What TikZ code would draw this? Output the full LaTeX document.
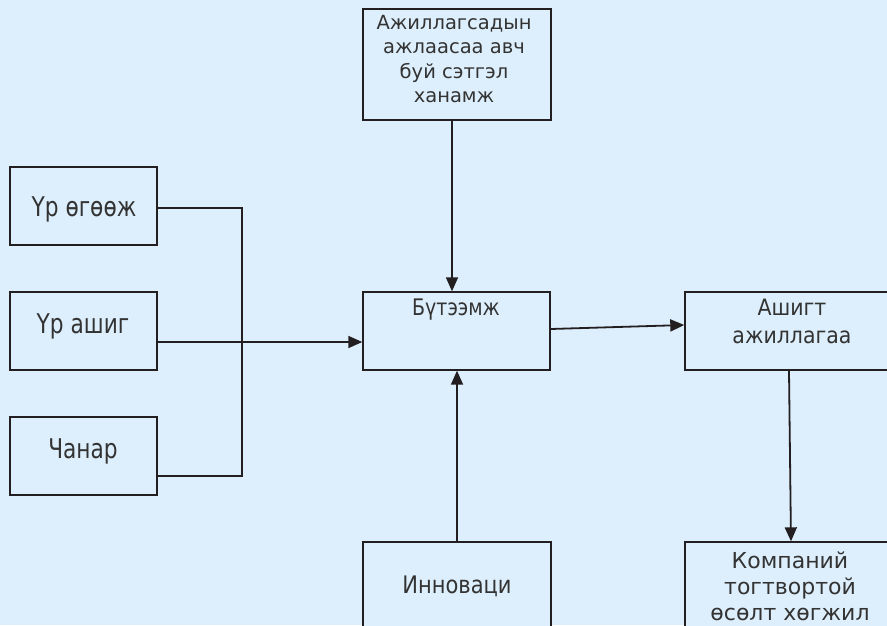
\documentclass[tikz,border=0pt]{standalone}
\usepackage{fontspec}
\setmainfont{DejaVu Sans}
\usetikzlibrary{arrows.meta,calc}
\definecolor{bg}{HTML}{DDEFFC}
\definecolor{ink}{HTML}{231F20}
\definecolor{txt}{HTML}{333333}
\newcommand\mystk[2]{\scalebox{1}[#1]{\begin{tabular}[t]{@{}c@{}}#2\end{tabular}}}
\begin{document}
\begin{tikzpicture}[x=1pt,y=-1pt,
  box/.style={draw=ink,line width=1.4pt,fill=bg,inner sep=0pt},
  lbl/.style={text=txt,inner sep=0pt,anchor=base},
  arr/.style={draw=ink,line width=1.8pt,-{Triangle[length=14pt,width=12pt]}},
  ln/.style={draw=ink,line width=1.6pt}]
\useasboundingbox (0,0) rectangle (887,625);
\fill[bg] (0,0) rectangle (887,625);
\clip (0,0) rectangle (887,625);
% boxes
\node[box,minimum width=188pt,minimum height=111pt] (top) at (457,64.5) {};
\node[box,minimum width=147pt,minimum height=78pt] (b1) at (83.5,206) {};
\node[box,minimum width=147pt,minimum height=78pt] (b2) at (83.5,331) {};
\node[box,minimum width=147pt,minimum height=78pt] (b3) at (83.5,456) {};
\node[box,minimum width=187pt,minimum height=78pt] (but) at (456.5,331) {};
\node[box,minimum width=214pt,minimum height=78pt] (ash) at (792,331) {};
\node[box,minimum width=188pt,minimum height=100pt] (inn) at (457,592) {};
\node[box,minimum width=214pt,minimum height=100pt] (komp) at (792,592) {};
% texts
\node[lbl,font=\fontsize{19.5}{24.5}\selectfont] (ttop) at (454,29) {\mystk{1}{Ажиллагсадын\\ажлаасаа авч\\буй сэтгэл\\ханамж}};
\node[lbl,font=\fontsize{21.7}{26}\selectfont] (t1) at (84,216) {\mystk{1.25}{Үр өгөөж}};
\node[lbl,font=\fontsize{21.7}{26}\selectfont] (t2) at (83,333) {\mystk{1.25}{Үр ашиг}};
\node[lbl,font=\fontsize{21.7}{26}\selectfont] (t3) at (83,458) {\mystk{1.25}{Чанар}};
\node[lbl,font=\fontsize{19}{24}\selectfont] (tbut) at (456,315) {\mystk{1.2}{Бүтээмж}};
\node[lbl,font=\fontsize{20.5}{25.5}\selectfont] (tash) at (792,315) {\mystk{1.1}{Ашигт\\ажиллагаа}};
\node[lbl,font=\fontsize{21}{25}\selectfont] (tinn) at (457,593) {\mystk{1.15}{Инноваци}};
\node[lbl,font=\fontsize{22}{26}\selectfont] (tkomp) at (790,568) {\mystk{1}{Компаний\\тогтвортой\\өсөлт хөгжил}};
% connectors
\coordinate (j1) at (242,208);
\coordinate (j3) at (242,476);
\draw[ln] ($(b1.east)+(0,2)$) -- (j1) -- (j3) -- ($(b3.east)+(0,20)$);
\draw[arr] ($(b2.east)+(0,11)$) -- ($(but.west)+(0,11)$);
\draw[arr] ($(top.south)+(-5,0)$) -- ($(but.north)+(-4.5,0)$);
\draw[arr] (inn.north) -- ($(but.south)+(0.5,0)$);
\draw[arr] ($(but.east)+(0,-2)$) -- ($(ash.west)+(0,-6)$);
\draw[arr] ($(ash.south)+(-3,0)$) -- ($(komp.north)+(-1,0)$);
\end{tikzpicture}
\end{document}
